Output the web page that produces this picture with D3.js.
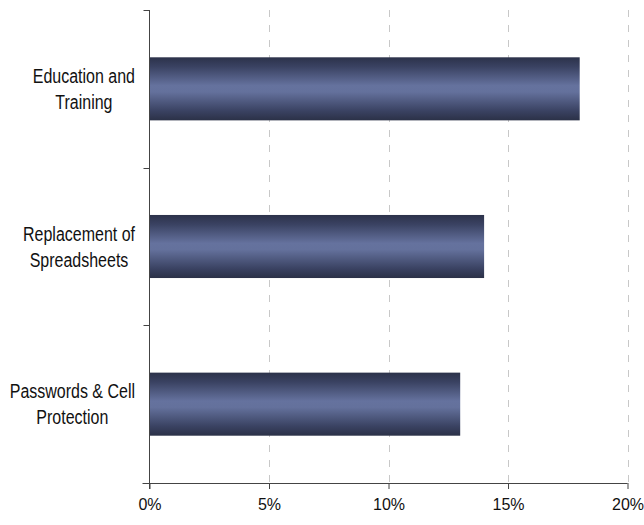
<!DOCTYPE html>
<html>
<head>
<meta charset="utf-8">
<script src="https://cdn.jsdelivr.net/npm/d3@7"></script>
<style>
  html, body { margin: 0; padding: 0; background: #fff; }
  svg { display: block; }
</style>
</head>
<body>
<svg id="chart" width="644" height="525"></svg>
<script>
// Categories (top to bottom) and their shares
const categories = [
  ["Education and", "Training"],
  ["Replacement of", "Spreadsheets"],
  ["Passwords & Cell", "Protection"]
];
const values = [0.18, 0.14, 0.13];
const xTicks = [0, 0.05, 0.10, 0.15, 0.20];

const svg = d3.select("#chart");
const plot = { left: 149.5, right: 627.5, top: 10, bottom: 483 };

const x = d3.scaleLinear().domain([0, 0.20]).range([plot.left, plot.right]);
const y = d3.scaleBand().domain(d3.range(categories.length)).range([plot.top, plot.bottom]).padding(0);

// Bar shading: dark edges, lighter centre
const defs = svg.append("defs");
const grad = defs.append("linearGradient")
  .attr("id", "barShade").attr("x1", 0).attr("y1", 0).attr("x2", 0).attr("y2", 1);
[[0, "#2c324a"], [0.15, "#3a4262"], [0.45, "#65729e"], [0.55, "#64719c"], [0.85, "#3a4262"], [1, "#2b3147"]]
  .forEach(([o, c]) => grad.append("stop").attr("offset", o).attr("stop-color", c));

// Dashed vertical gridlines
svg.append("g").selectAll("line")
  .data(xTicks.filter(d => d > 0))
  .join("line")
  .attr("x1", d => Math.round(x(d)) + 0.5).attr("x2", d => Math.round(x(d)) + 0.5)
  .attr("y1", plot.top).attr("y2", plot.bottom)
  .attr("stroke", "#c8c8c8").attr("stroke-width", 1)
  .attr("stroke-dasharray", "7,8");

// Bars
const barH = y.bandwidth() * 0.4;
svg.append("g").selectAll("rect")
  .data(values)
  .join("rect")
  .attr("x", x(0))
  .attr("y", (d, i) => y(i) + (y.bandwidth() - barH) / 2)
  .attr("width", d => x(d) - x(0))
  .attr("height", barH)
  .attr("fill", "url(#barShade)");

// X axis
const xAxis = d3.axisBottom(x).tickValues(xTicks).tickSize(6).tickPadding(6)
  .tickFormat(d3.format(".0%"));
const gx = svg.append("g").attr("transform", `translate(0,${plot.bottom})`).call(xAxis);
gx.select(".domain").attr("d", `M${plot.left - 7},0.5H${plot.right}`).attr("stroke", "#444");
gx.selectAll(".tick line").attr("stroke", "#444");
gx.selectAll(".tick text")
  .attr("font-family", "'Liberation Sans', Arial, sans-serif")
  .attr("font-size", 16).attr("fill", "#111").attr("dy", "0.95em");

// Y axis line and category boundary ticks
const gy = svg.append("g");
gy.append("line")
  .attr("x1", plot.left).attr("x2", plot.left)
  .attr("y1", plot.top).attr("y2", plot.bottom + 6)
  .attr("stroke", "#444");
const bounds = d3.range(categories.length).map(i => y(i)).concat([plot.bottom]);
gy.selectAll("line.tick")
  .data(bounds)
  .join("line").attr("class", "tick")
  .attr("x1", plot.left - 6).attr("x2", plot.left)
  .attr("y1", d => Math.round(d) + 0.5).attr("y2", d => Math.round(d) + 0.5)
  .attr("stroke", "#444");

// Category labels: narrow type, lines centred within a right-aligned block
const sx = 0.82, labelRight = 135, lineGap = 26;
categories.forEach((lines, i) => {
  const cy = y(i) + y.bandwidth() / 2;
  const g = svg.append("g");
  const texts = lines.map((t, j) => g.append("text")
    .attr("font-family", "'Liberation Sans', Arial, sans-serif")
    .attr("font-size", 19.5).attr("fill", "#111")
    .attr("text-anchor", "middle")
    .text(t));
  const blockW = d3.max(texts, t => t.node().getComputedTextLength()) * sx;
  const cx = labelRight - blockW / 2;
  texts.forEach((t, j) => {
    const base = cy - 6 + j * lineGap;
    t.attr("transform", `translate(${cx},${base}) scale(${sx},1)`);
  });
});
</script>
</body>
</html>
